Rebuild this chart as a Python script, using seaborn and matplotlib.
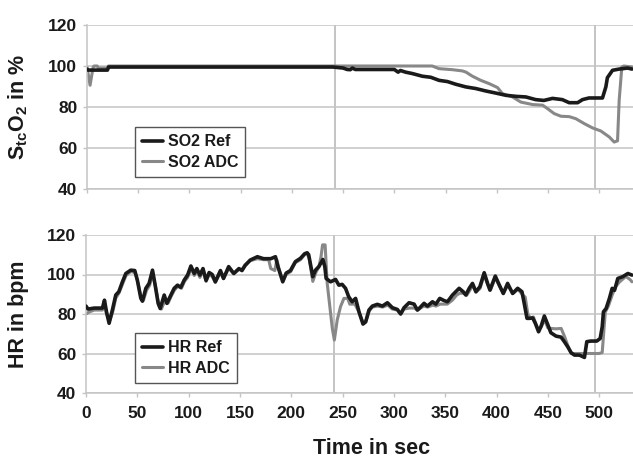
import numpy as np
import pandas as pd
import matplotlib
matplotlib.use("Agg")
import matplotlib.pyplot as plt
import seaborn as sns

# ---------------- data ----------------
so2_ref_t = [0, 1, 20, 21, 240, 250, 254, 257, 259, 262, 300, 303.7, 306, 311, 317.7, 327.5,
             335.6, 343.7, 351.9, 360, 369.8, 379.6, 389.4, 399, 409, 418.6, 428.4, 438, 446,
             454.4, 464, 470.7, 478.9, 483.7, 490, 503.2, 506.5, 508, 513, 519.5, 527.7, 532]
so2_ref = [98.5, 98, 98, 99.5, 99.5, 99, 98.3, 98.2, 99, 98.3, 98.3, 97, 97.8, 97, 96.3, 95,
           94.5, 93, 92.4, 91.1, 89.8, 89, 87.8, 86.8, 85.7, 85.2, 84.9, 83.6, 83.2,
           84.2, 83.6, 82.1, 82.1, 83.6, 84.4, 84.4, 89.8, 94.3, 97.9, 98.5, 99, 98.5]

so2_adc_t = [0, 3, 6, 7, 10, 11, 20, 21, 337, 343.7, 356.7, 366.5, 370, 376.3, 384.4, 392.6,
             400.7, 405.6, 415.4, 423.5, 434.9, 444.7, 449.6, 456, 462.6, 470.7, 477.2, 485.4,
             493.5, 501.6, 509.8, 514.6, 517.9, 519.5, 522.1, 524, 532]
so2_adc = [99.5, 90.6, 99.5, 100, 100, 99, 99, 100, 100, 98.7, 98.2, 97.6, 97, 95, 93, 91.4,
           89.5, 86.5, 84.9, 82.4, 81.2, 80.9, 79.2, 76.8, 75.5, 75.3, 74.3, 71.9,
           69.8, 68.3, 65.4, 62.9, 63.5, 83.3, 99.5, 100, 99.5]

hr_ref_t = [0, 2, 8, 16, 18, 20, 22.5, 25.7, 29, 32, 35.5, 38.8, 43.6, 47.5, 50, 53.4, 55, 58.3,
            61.5, 64.8, 67.4, 70.3, 72.3, 76.2, 78.8, 82.7, 85.9, 89.2, 92.4, 95.7, 99, 102.2,
            105.5, 108, 111, 114, 117, 120, 123, 126, 131, 134, 139, 144, 149, 152, 155, 160,
            167, 173, 180, 184.6, 187, 191.7, 195, 199.2, 204, 209, 213, 215.5, 217, 221,
            223.6, 226.9, 230.8, 232.7, 234, 238.3, 243.2, 246.4, 249.6, 252.9, 256, 259.4,
            262.7, 266, 269.9, 272.5, 275.7, 279, 283.9, 288.8, 293.7, 298.5, 303.4, 306.6,
            309.9, 314.8, 319.7, 322.9, 325, 329.4, 332.7, 337.6, 340.9, 344.7, 348.9, 352.2,
            357.1, 360.4, 363.6, 367.5, 370.1, 373.4, 376.6, 379.9, 383.8, 388, 391.3, 393.6,
            398.8, 402, 406.6, 410.8, 415.7, 420.6, 424.8, 427, 429.7, 432, 435.3, 437.8, 441,
            443.4, 446.6, 449.9, 453, 458, 462.9, 466.1, 469.4, 472.7, 475.9, 480.8, 484, 485.7,
            488, 492, 497.7, 501, 503, 504.2, 506.8, 510, 512.7, 515, 518.2, 523, 528, 532]
hr_ref = [84, 82.5, 83, 83, 87, 81, 75.3, 82, 89.6, 91.3, 96.3, 100.5, 102.2, 102, 97.2, 88, 86.5, 93,
          95.5, 102.2, 94.6, 85.4, 82.8, 89.6, 85.4, 89.6, 93, 94.6, 93.5, 97.2, 99.7, 104.3,
          100.5, 103, 99.7, 103, 97, 101, 100, 96.3, 102, 98, 104, 100.5, 103, 102, 104.5, 107.3,
          109, 108, 108, 109, 104, 96.3, 100.7, 102, 106.5, 108.2, 110.5, 111, 110, 98.9,
          102.2, 104, 107.6, 104, 98, 96.3, 97.5, 94.6, 95, 93, 88.7, 86.2,
          87.9, 81.1, 74.9, 76, 82, 84, 84.9, 84, 85.7, 83.2, 82.3, 80,
          83.2, 85.7, 85, 82, 83, 85.4, 84, 86.2, 85, 87.9, 86.8, 86.2,
          89.6, 91.3, 93, 91.3, 89.6, 93, 95.5, 91.3, 93.8, 100.9, 95.5, 92.1,
          99.2, 95.5, 90.4, 95.5, 90.4, 93, 91.3, 85.4, 77.8, 77.8, 78, 75.3, 71,
          73.7, 79, 74.7, 70.5, 68.8, 68.3, 66, 63.4, 60.4, 59.2, 59.2, 58.4, 58,
          66, 66.3, 66.3, 67.6, 73.5, 81.1, 82.8, 87.9, 93, 92, 98, 98.9, 100.5, 99.7]

hr_adc_t = [0, 3, 8, 16, 18, 20, 23, 26, 29, 32, 35.5, 39, 43.6, 48, 51, 54, 56, 59, 62, 65, 68,
            71, 73.5, 77, 80, 83, 86, 89.5, 93, 96, 99, 102.5, 105.5, 108, 111, 114, 117, 120,
            123, 126, 131, 134, 139, 144, 149, 152, 155, 160, 167, 173, 178, 180, 184, 186, 188,
            192, 195, 199.5, 204, 209, 213, 215.5, 217.5, 221, 224, 227, 229, 230.5, 233, 235,
            240, 242, 244.8, 248, 251.3, 255, 257, 262, 266, 270, 272.5, 276, 279, 284, 289,
            294, 298.5, 303.4, 306.6, 310, 315, 320, 323, 329, 333, 338, 341, 345, 349, 352,
            357, 361, 364, 368, 371, 374, 377, 380, 384, 388, 391.3, 394, 399, 402, 406.6, 411,
            416, 421, 425, 428, 430.5, 433, 436, 438, 441, 444, 447, 450, 453, 458, 463, 466,
            469.5, 473, 480, 490, 500, 503, 506, 509, 512.7, 516, 520, 526, 530, 532]
hr_adc = [80, 81, 82, 82, 86, 80, 76.5, 81, 88, 90.5, 95, 99.5, 101.5, 101, 95, 87.5, 87, 92, 94.5, 100.5, 93,
          84.5, 82.5, 87, 85.5, 89, 92, 94, 93, 96.5, 98.5, 103, 99.5, 102, 98.5, 102, 96.5, 100,
          99, 96, 101, 98, 103, 100.5, 102.5, 102.5, 105, 107, 108, 107.5, 107.5, 103, 102, 107.5, 103,
          96.8, 100, 101.5, 106, 107.5, 110, 110.5, 108, 96.5, 101, 104, 109, 115, 115, 95.7,
          72.7, 66.8, 77, 83.7, 87.9, 87.9, 85, 85, 81, 75.5, 76, 81.5, 83.5, 84, 83.5,
          84.5, 82.5, 82, 80, 82.5, 83, 83, 82, 84, 83.5, 84.5, 84, 85, 85, 85,
          87, 89.5, 90.5, 90.5, 89.5, 92, 94.5, 91, 93, 100, 95, 92, 98.5, 95, 90.4, 94.5,
          90.4, 92.5, 90, 88.5, 80, 78, 78.5, 75.5, 72, 74, 77, 73, 72.7, 72.5, 72.7, 69,
          64, 60, 60, 60, 60, 60.5, 81, 84, 89.6, 93.8, 96.3, 99, 97.5, 96.3]

events = [242, 496]
x_ticks = list(range(0, 501, 50))
y_ticks = [40, 60, 80, 100, 120]

# ---------------- style ----------------
sns.set_theme(style="white")
plt.rcParams['font.family'] = ['Liberation Sans', 'DejaVu Sans']
plt.rcParams['font.weight'] = 'bold'
plt.rcParams['mathtext.fontset'] = 'custom'
plt.rcParams['mathtext.rm'] = 'Liberation Sans:bold'
plt.rcParams['mathtext.it'] = 'Liberation Sans:bold'
plt.rcParams['mathtext.bf'] = 'Liberation Sans:bold'
plt.rcParams['mathtext.default'] = 'rm'

REF_C = '#1a1a1a'
ADC_C = '#888888'
GRID_C = '#c4c4c4'

W, H = 633, 459
fig = plt.figure(figsize=(W / 100, H / 100), dpi=100)

ax1 = fig.add_axes([87 / W, 1 - 189 / H, (W - 87) / W, (189 - 25) / H])
ax2 = fig.add_axes([86 / W, 1 - 393 / H, (W - 86) / W, (393 - 235) / H])

df_so2 = pd.concat([
    pd.DataFrame({'t': so2_ref_t, 'v': so2_ref, 's': 'SO2 Ref'}),
    pd.DataFrame({'t': so2_adc_t, 'v': so2_adc, 's': 'SO2 ADC'}),
])
df_hr = pd.concat([
    pd.DataFrame({'t': hr_ref_t, 'v': hr_ref, 's': 'HR Ref'}),
    pd.DataFrame({'t': hr_adc_t, 'v': hr_adc, 's': 'HR ADC'}),
])


def draw(ax, df, ref_name, adc_name, ylabel, legend_xy):
    for y in y_ticks:
        ax.axhline(y, color=GRID_C, lw=1.1, zorder=0)
    for e in events:
        ax.axvline(e, color=GRID_C, lw=1.4, zorder=0)
    sns.lineplot(data=df[df.s == adc_name], x='t', y='v', ax=ax, color=ADC_C,
                 lw=2.2, sort=False, estimator=None, label=adc_name, zorder=2)
    sns.lineplot(data=df[df.s == ref_name], x='t', y='v', ax=ax, color=REF_C,
                 lw=2.6, sort=False, estimator=None, label=ref_name, zorder=3)
    ax.set_xlim(0, 533)
    ax.set_ylim(40, 120)
    ax.set_xticks(x_ticks)
    ax.set_yticks(y_ticks)
    ax.set_xlabel('')
    ax.set_ylabel(ylabel, fontsize=15.5, fontweight='bold', color='#1a1a1a')
    ax.yaxis.set_label_coords(-0.105, 0.5)
    for s in ['top', 'right']:
        ax.spines[s].set_visible(False)
    for s in ['left', 'bottom']:
        ax.spines[s].set_color(GRID_C)
        ax.spines[s].set_linewidth(1.1)
    ax.tick_params(axis='x', direction='out', length=3, width=1, color=GRID_C,
                   bottom=True, pad=6, labelsize=12.5, labelcolor='#1a1a1a')
    ax.tick_params(axis='y', direction='out', length=3, width=1, color=GRID_C,
                   left=True, pad=4, labelsize=12.5, labelcolor='#1a1a1a')
    for lab in ax.get_xticklabels() + ax.get_yticklabels():
        lab.set_fontweight('bold')
    handles, labels = ax.get_legend_handles_labels()
    order = [labels.index(ref_name), labels.index(adc_name)]
    leg = ax.legend([handles[i] for i in order], [labels[i] for i in order],
                    loc='lower left', bbox_to_anchor=legend_xy, fontsize=11.5,
                    frameon=True, fancybox=False, framealpha=1, edgecolor='#555555',
                    handlelength=1.3, handletextpad=0.3, borderpad=0.45,
                    labelspacing=0.35, borderaxespad=0)
    leg.get_frame().set_linewidth(1.0)
    for t in leg.get_texts():
        t.set_fontweight('bold')
        t.set_color('#1a1a1a')


draw(ax1, df_so2, 'SO2 Ref', 'SO2 ADC', r'S$_{tc}$O$_{2}$ in %', (0.088, 0.073))
draw(ax2, df_hr, 'HR Ref', 'HR ADC', 'HR in bpm', (0.0896, 0.063))
ax1.set_xticklabels([])

fig.text(371.5 / W, 5 / H, 'Time in sec', ha='center', va='baseline',
         fontsize=15.5, fontweight='bold', color='#1a1a1a')

fig.savefig('out.png', dpi=100)
